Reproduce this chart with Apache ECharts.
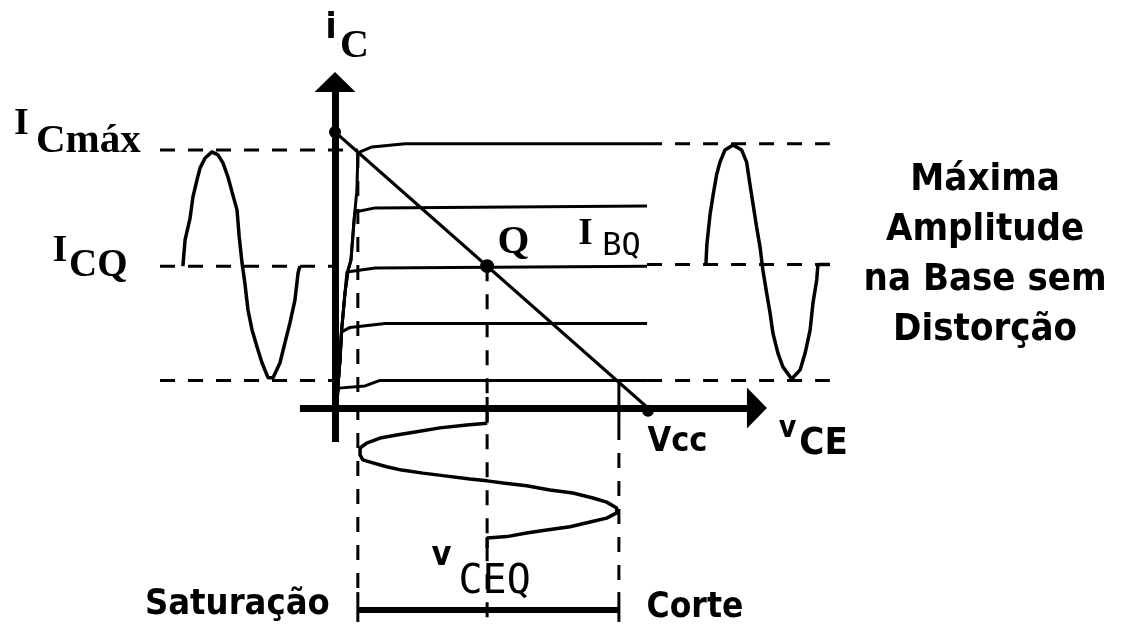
<!DOCTYPE html>
<html><head><meta charset="utf-8">
<script src="https://cdn.jsdelivr.net/npm/echarts@6/dist/echarts.min.js"></script>
<style>html,body{margin:0;padding:0;background:#fff}#c{width:1135px;height:628px}</style>
</head><body><div id="c"></div>
<script>
// ===== DATA (diagram units: x = v_CE [V], y = i_C [mA]) =====
const VCC = 10;
const IC_SAT = 10;
const Q_POINT = [4.86, 5.14];
const V_SAT = 0.73;
const V_CUT = 9.07;
const CURVE_END = 9.97;

// collector characteristic curves (one per base current)
const IB_CURVE_1 = [[0.06,0.29],[0.16,1.74],[0.22,2.93],[0.32,4.17],[0.42,5.0],[0.51,5.36],[0.61,6.81],[0.70,7.90],[0.73,9.24],[1.18,9.46],[2.24,9.57],[9.97,9.57]];
const IB_CURVE_2 = [[0.06,0.29],[0.16,1.74],[0.22,2.93],[0.32,4.17],[0.42,5.0],[0.51,5.36],[0.61,6.81],[0.64,7.10],[1.28,7.25],[9.97,7.32]];
const IB_CURVE_3 = [[0.06,0.29],[0.16,1.74],[0.22,2.93],[0.32,4.17],[0.38,4.93],[1.28,5.07],[9.97,5.14]];
const IB_CURVE_4 = [[0.06,0.29],[0.16,1.74],[0.20,2.75],[0.48,2.92],[1.60,3.06],[9.97,3.06]];
const IB_CURVE_5 = [[0.06,0.29],[0.12,0.72],[0.96,0.80],[1.44,1.0],[9.97,1.0]];

// horizontal guide levels
const LEFT_GUIDES = [9.35, 5.14, 1.0];
const LEFT_GUIDE_FROM = -5.59;
const LEFT_GUIDE_TO = [0.73, 0, 0];
const RIGHT_GUIDES = [9.57, 5.2, 1.0];
const RIGHT_GUIDE_TO = 15.81;

// input waveform on the left (i_C vs time)
const LEFT_WAVE = [[-4.86,5.14],[-4.79,6.09],[-4.63,6.88],[-4.54,7.64],[-4.41,8.26],[-4.31,8.70],[-4.15,9.06],[-3.93,9.28],[-3.74,9.17],[-3.58,8.88],[-3.42,8.37],[-3.29,7.83],[-3.13,7.17],[-3.06,6.20],[-2.97,5.25],[-2.88,4.53],[-2.78,3.55],[-2.65,2.83],[-2.49,2.21],[-2.33,1.63],[-2.14,1.10],[-1.98,1.10],[-1.76,1.63],[-1.60,2.36],[-1.44,3.08],[-1.28,3.91],[-1.18,4.89],[-1.12,5.14]];
// waveform on the right
const RIGHT_WAVE = [[11.85,5.2],[11.88,5.91],[11.98,6.99],[12.08,7.72],[12.19,8.44],[12.30,8.91],[12.46,9.35],[12.72,9.53],[12.99,9.35],[13.15,8.91],[13.26,8.08],[13.35,7.43],[13.47,6.56],[13.58,5.83],[13.67,5.0],[13.79,4.17],[13.90,3.44],[13.99,2.72],[14.15,1.99],[14.31,1.49],[14.59,1.05],[14.86,1.38],[15.02,1.99],[15.18,2.83],[15.27,3.80],[15.39,4.64],[15.43,5.2],[15.81,5.2]];
// v_CE waveform below the axis (time runs downward)
const BOTTOM_WAVE = [[4.86,-0.55],[4.21,-0.62],[3.35,-0.72],[2.61,-0.86],[1.97,-0.98],[1.44,-1.09],[1.01,-1.27],[0.80,-1.45],[0.80,-1.70],[0.89,-1.88],[1.21,-1.99],[1.65,-2.13],[2.13,-2.25],[2.81,-2.36],[3.45,-2.45],[4.31,-2.57],[4.86,-2.64],[5.37,-2.72],[6.12,-2.82],[6.87,-2.97],[7.60,-3.08],[8.24,-3.26],[8.68,-3.41],[9.00,-3.62],[9.00,-3.80],[8.68,-3.99],[8.15,-4.13],[7.51,-4.30],[6.76,-4.42],[6.12,-4.53],[5.49,-4.66],[4.86,-4.71],[4.86,-5.07]];

// axes extents
const X_AXIS_RANGE = [-1.12, 13.48];
const Y_AXIS_RANGE = [-1.23, 11.81];
const BOTTOM_LEVEL = -7.75;
const BAR_LEVEL = -7.32;
const TICK_TOP = -6.67;

// text annotations
const LABEL_TEXT = ['i','C','I','Cmáx','I','CQ','Q','I','BQ','Vcc','v','CE','v','CEQ','Saturação','Corte','Máxima\nAmplitude\nna Base sem\nDistorção'];
const LABEL_AT = [[-0.13,13.75],[0.62,13.10],[-10.02,10.27],[-7.88,9.66],[-8.79,5.67],[-7.56,5.14],[5.70,6.0],[8.00,6.29],[9.15,5.85],[10.94,-1.25],[14.46,-0.76],[15.61,-1.30],[3.40,-5.36],[5.10,-6.32],[-3.12,-7.14],[11.50,-7.23],[20.77,5.53]];

// ===== LAYOUT =====
const OX = 335, OY = 408, PXV = 31.3, PXI = 27.6, W = 1135, H = 628;
const SERIF = "'Liberation Serif','DejaVu Serif',serif";
const COND = "'DejaVu Sans Condensed','Liberation Sans Narrow','DejaVu Sans',sans-serif";
const MONO = "'DejaVu Sans Mono','Liberation Mono',monospace";
const LABEL_STYLE = [
  [COND,'bold',36],[SERIF,'bold',40],[SERIF,'bold',38],[SERIF,'bold',41],[SERIF,'bold',38],[SERIF,'bold',39],
  [SERIF,'bold',41],[SERIF,'bold',37],[MONO,'normal',32],[COND,'bold',34],[COND,'bold',30],[COND,'bold',38],
  [COND,'bold',34],[MONO,'normal',40],[COND,'bold',36],[COND,'bold',35],[COND,'bold',38]
];

const BLACK = '#000';
function line(data, opts) {
  opts = opts || {};
  return {
    type: 'line', data: data, showSymbol: false, symbol: 'none', silent: true, clip: false,
    animation: false, z: opts.z || 2,
    lineStyle: { color: BLACK, width: opts.width || 3, type: opts.dash || 'solid', cap: 'butt' }
  };
}
const DASH = [15, 13];
const series = [];
[IB_CURVE_1, IB_CURVE_2, IB_CURVE_3, IB_CURVE_4, IB_CURVE_5].forEach(c => series.push(line(c)));
LEFT_GUIDES.forEach((lv, k) => series.push(line([[LEFT_GUIDE_FROM, lv], [LEFT_GUIDE_TO[k], lv]], { dash: DASH })));
RIGHT_GUIDES.forEach(lv => series.push(line([[CURVE_END, lv], [RIGHT_GUIDE_TO, lv]], { dash: DASH })));
series.push(line(LEFT_WAVE, { width: 3.5 }));
series.push(line(RIGHT_WAVE, { width: 3.5 }));
series.push(line(BOTTOM_WAVE, { width: 3.5 }));
// load line
series.push(line([[0, IC_SAT], [VCC, 0]]));
// verticals
series.push(line([[V_SAT, 9.24], [V_SAT, TICK_TOP]], { dash: DASH }));
series.push(line([[V_SAT, TICK_TOP], [V_SAT, BOTTOM_LEVEL]]));
series.push(line([[Q_POINT[0], Q_POINT[1]], [Q_POINT[0], BOTTOM_LEVEL]], { dash: DASH }));
series.push(line([[Q_POINT[0], 0.4], [Q_POINT[0], BOTTOM_WAVE[0][1]]]));
series.push(line([[V_CUT, 1.0], [V_CUT, -0.62]]));
series.push(line([[V_CUT, -0.62], [V_CUT, TICK_TOP]], { dash: DASH }));
series.push(line([[V_CUT, TICK_TOP], [V_CUT, BOTTOM_LEVEL]]));
series.push(line([[V_SAT, BAR_LEVEL], [V_CUT, BAR_LEVEL]], { width: 6 }));
// axes with arrowheads
series.push({
  type: 'line', data: [], silent: true, animation: false, z: 5,
  markLine: {
    silent: true, animation: false, symbol: ['none', 'triangle'], symbolSize: [41, 20],
    label: { show: false },
    lineStyle: { color: BLACK, width: 7, type: 'solid' },
    itemStyle: { color: BLACK },
    data: [
      [{ coord: [X_AXIS_RANGE[0], 0] }, { coord: [X_AXIS_RANGE[1], 0] }],
      [{ coord: [0, Y_AXIS_RANGE[0]] }, { coord: [0, Y_AXIS_RANGE[1]] }]
    ]
  }
});
// dots
series.push({
  type: 'scatter', silent: true, animation: false, z: 6,
  data: [
    { value: [0, IC_SAT], symbolSize: 12 },
    { value: Q_POINT, symbolSize: 14 },
    { value: [VCC, -0.1], symbolSize: 12 }
  ],
  itemStyle: { color: BLACK, opacity: 1 }
});
// labels
series.push({
  type: 'scatter', silent: true, animation: false, z: 7, symbolSize: 1,
  itemStyle: { color: 'rgba(0,0,0,0)', opacity: 1 },
  labelLayout: { hideOverlap: false },
  data: LABEL_TEXT.map((t, k) => ({
    value: LABEL_AT[k],
    label: {
      show: true, position: 'inside', formatter: t, color: BLACK, opacity: 1,
      fontFamily: LABEL_STYLE[k][0], fontWeight: LABEL_STYLE[k][1], fontSize: LABEL_STYLE[k][2],
      align: 'center', verticalAlign: 'middle', lineHeight: t.indexOf('\n') >= 0 ? 50 : LABEL_STYLE[k][2] + 4
    }
  }))
});

const chart = echarts.init(document.getElementById('c'), null, { renderer: 'canvas' });
chart.setOption({
  animation: false,
  backgroundColor: '#fff',
  grid: { left: 0, right: 0, top: 0, bottom: 0 },
  xAxis: { type: 'value', min: -OX / PXV, max: (W - OX) / PXV, show: false },
  yAxis: { type: 'value', min: -(H - OY) / PXI, max: OY / PXI, show: false },
  series: series
});
</script></body></html>
